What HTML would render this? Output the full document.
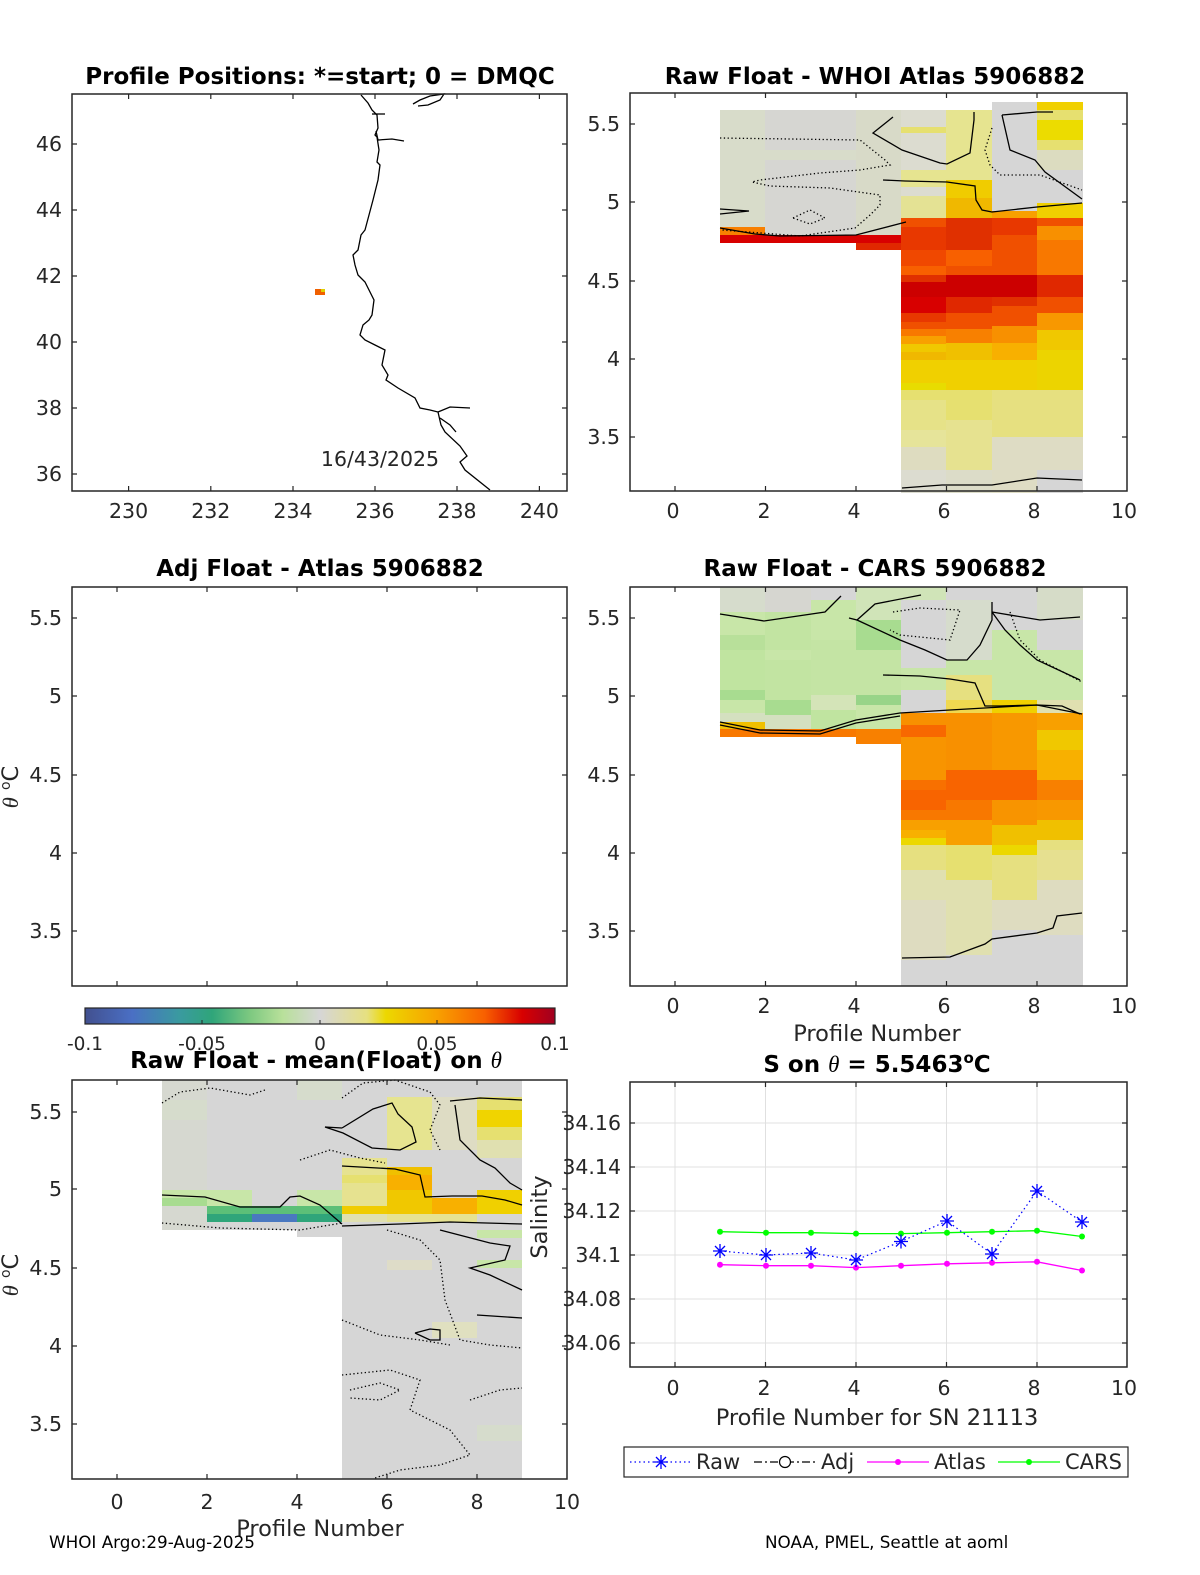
<!DOCTYPE html>
<html><head><meta charset="utf-8"><style>
html,body{margin:0;padding:0;background:#fff;}
svg{display:block;font-family:"DejaVu Sans","Liberation Sans",sans-serif;}
.t{font-size:20.5px;fill:#262626;}
.l{font-size:22.5px;fill:#262626;}
.h{font-size:23px;font-weight:bold;fill:#000;}
.ax{fill:none;stroke:#262626;stroke-width:1.5;}
.c{fill:none;stroke:#000;stroke-width:1.3;}
.d{fill:none;stroke:#000;stroke-width:1.3;stroke-dasharray:1.3 2.5;}
</style></head><body>
<svg width="1200" height="1575" viewBox="0 0 1200 1575" xmlns="http://www.w3.org/2000/svg" xml:space="preserve">
<rect width="1200" height="1575" fill="#fff"/>
<defs>
<linearGradient id="cm" x1="0" x2="1" y1="0" y2="0">
<stop offset="0" stop-color="#42508f"/><stop offset="0.1" stop-color="#4a6fc4"/>
<stop offset="0.2" stop-color="#3a9aa0"/><stop offset="0.27" stop-color="#2fa57a"/>
<stop offset="0.35" stop-color="#7cc880"/><stop offset="0.42" stop-color="#b8e09a"/>
<stop offset="0.5" stop-color="#d6d6d6"/><stop offset="0.6" stop-color="#e6e080"/>
<stop offset="0.64" stop-color="#ecd800"/><stop offset="0.75" stop-color="#f8a000"/>
<stop offset="0.85" stop-color="#f86000"/><stop offset="0.93" stop-color="#d80000"/>
<stop offset="1" stop-color="#a00020"/>
</linearGradient>
</defs>

<!-- ============ Panel 1: Map ============ -->
<text class="h" x="320" y="84" text-anchor="middle">Profile Positions: *=start; 0 = DMQC</text>
<polyline class="c" points="361,95 368,103 372,110 377,115 378,128 375,135 377,137 379,150 377,162 380,165 378,180 373,200 369,215 365,230 361,235 358,250 353,255 355,265 358,275 365,282 370,292 374,300 372,315 369,320 363,325 360,335 365,340 375,345 385,350 382,365 388,375 386,380 398,388 415,398 420,408 430,410 438,412 441,425 445,432 460,446 467,456 460,462 465,470 490,490"/>
<polyline class="c" points="372,114 385,114"/>
<polyline class="c" points="376,131 378,140 392,139 404,141"/>
<polyline class="c" points="413,104 420,100 430,96 444,94 440,100 428,105 418,106"/>
<polyline class="c" points="438,412 450,407 470,408"/>
<polyline class="c" points="440,418 450,425 456,432"/>
<rect x="315" y="289" width="10" height="6" fill="#f06000"/>
<rect x="321" y="289" width="4" height="3" fill="#e0d000"/>
<text class="t" x="380" y="466" text-anchor="middle">16/43/2025</text>
<rect class="ax" x="72" y="94" width="495" height="397"/>
<g stroke="#262626" stroke-width="1.2">
<path d="M128.6,491v-5M210.8,491v-5M293,491v-5M375,491v-5M457,491v-5M539.4,491v-5M128.6,94v5M210.8,94v5M293,94v5M375,94v5M457,94v5M539.4,94v5"/>
<path d="M72,144h5M72,210h5M72,276h5M72,342h5M72,408h5M72,474h5M567,144h-5M567,210h-5M567,276h-5M567,342h-5M567,408h-5M567,474h-5"/>
</g>
<g class="t" text-anchor="middle">
<text x="128.6" y="518">230</text><text x="210.8" y="518">232</text><text x="293" y="518">234</text><text x="375" y="518">236</text><text x="457" y="518">238</text><text x="539.4" y="518">240</text>
</g>
<g class="t" text-anchor="end">
<text x="62" y="151">46</text><text x="62" y="217">44</text><text x="62" y="283">42</text><text x="62" y="349">40</text><text x="62" y="415">38</text><text x="62" y="481">36</text>
</g>

<!-- ============ Panel 2: Raw - WHOI Atlas ============ -->
<text class="h" x="875" y="84" text-anchor="middle">Raw Float - WHOI Atlas  5906882</text>
<g>
<rect x="720" y="110" width="46" height="117" fill="#d8dcca"/>
<rect x="720" y="227" width="46" height="8" fill="#f88000"/>
<rect x="720" y="235" width="46" height="8" fill="#d80000"/>
<rect x="765" y="110" width="92" height="125" fill="#d6d6d2"/>
<rect x="765" y="150" width="92" height="10" fill="#d8dcca"/>
<rect x="765" y="235" width="92" height="8" fill="#d80000"/>
<rect x="856" y="110" width="46" height="125" fill="#d8dac8"/>
<rect x="856" y="235" width="46" height="8" fill="#d80000"/>
<rect x="856" y="243" width="46" height="7" fill="#e02800"/>
<rect x="901" y="110" width="46" height="383" fill="#dcdcd0"/>
<rect x="901" y="127" width="46" height="6" fill="#e6e070"/>
<rect x="901" y="170" width="46" height="17" fill="#e6e490"/>
<rect x="901" y="196" width="46" height="22" fill="#e4e294"/>
<rect x="901" y="218" width="46" height="9" fill="#f05000"/>
<rect x="901" y="227" width="46" height="23" fill="#e83800"/>
<rect x="901" y="250" width="46" height="16" fill="#f04800"/>
<rect x="901" y="266" width="46" height="9" fill="#f86000"/>
<rect x="901" y="275" width="46" height="7" fill="#e03000"/>
<rect x="901" y="282" width="46" height="15" fill="#cc0000"/>
<rect x="901" y="297" width="46" height="16" fill="#d80000"/>
<rect x="901" y="313" width="46" height="9" fill="#e83800"/>
<rect x="901" y="322" width="46" height="7" fill="#f05000"/>
<rect x="901" y="329" width="46" height="7" fill="#f87800"/>
<rect x="901" y="336" width="46" height="8" fill="#f8a000"/>
<rect x="901" y="344" width="46" height="8" fill="#f0c800"/>
<rect x="901" y="352" width="46" height="8" fill="#f0b800"/>
<rect x="901" y="360" width="46" height="23" fill="#f0d000"/>
<rect x="901" y="383" width="46" height="7" fill="#e8dc00"/>
<rect x="901" y="390" width="46" height="10" fill="#e6e070"/>
<rect x="901" y="400" width="46" height="30" fill="#e6e288"/>
<rect x="901" y="430" width="46" height="17" fill="#e6e49a"/>
<rect x="901" y="447" width="46" height="23" fill="#dedcc0"/>
<rect x="946" y="110" width="46" height="383" fill="#dcdcc8"/>
<rect x="946" y="110" width="46" height="70" fill="#e6e490"/>
<rect x="946" y="180" width="46" height="18" fill="#f0cc00"/>
<rect x="946" y="198" width="46" height="20" fill="#f0b800"/>
<rect x="946" y="218" width="46" height="32" fill="#e03000"/>
<rect x="946" y="250" width="46" height="16" fill="#f86000"/>
<rect x="946" y="266" width="46" height="9" fill="#f05000"/>
<rect x="946" y="275" width="46" height="22" fill="#cc0000"/>
<rect x="946" y="297" width="46" height="16" fill="#e02800"/>
<rect x="946" y="313" width="46" height="16" fill="#f05000"/>
<rect x="946" y="329" width="46" height="14" fill="#f88000"/>
<rect x="946" y="343" width="46" height="17" fill="#f0c000"/>
<rect x="946" y="360" width="46" height="30" fill="#f0d000"/>
<rect x="946" y="390" width="46" height="30" fill="#e6e070"/>
<rect x="946" y="420" width="46" height="50" fill="#e6e290"/>
<rect x="992" y="102" width="46" height="391" fill="#d6d6d6"/>
<rect x="992" y="211" width="46" height="7" fill="#f8a000"/>
<rect x="992" y="218" width="46" height="17" fill="#e83800"/>
<rect x="992" y="235" width="46" height="40" fill="#f05000"/>
<rect x="992" y="275" width="46" height="22" fill="#cc0000"/>
<rect x="992" y="297" width="46" height="9" fill="#e03000"/>
<rect x="992" y="306" width="46" height="20" fill="#f05000"/>
<rect x="992" y="326" width="46" height="17" fill="#f89000"/>
<rect x="992" y="343" width="46" height="17" fill="#f8b000"/>
<rect x="992" y="360" width="46" height="30" fill="#f0d000"/>
<rect x="992" y="390" width="46" height="47" fill="#e6e080"/>
<rect x="992" y="437" width="46" height="56" fill="#dedcc4"/>
<rect x="1037" y="102" width="46" height="391" fill="#d6d6d6"/>
<rect x="1037" y="102" width="46" height="8" fill="#f0d000"/>
<rect x="1037" y="110" width="46" height="10" fill="#e6e070"/>
<rect x="1037" y="120" width="46" height="20" fill="#ecdc00"/>
<rect x="1037" y="140" width="46" height="10" fill="#e6e070"/>
<rect x="1037" y="150" width="46" height="20" fill="#dcdcc0"/>
<rect x="1037" y="203" width="46" height="15" fill="#f0d000"/>
<rect x="1037" y="218" width="46" height="8" fill="#f05000"/>
<rect x="1037" y="226" width="46" height="14" fill="#f89000"/>
<rect x="1037" y="240" width="46" height="35" fill="#f87800"/>
<rect x="1037" y="275" width="46" height="22" fill="#e02800"/>
<rect x="1037" y="297" width="46" height="16" fill="#f05000"/>
<rect x="1037" y="313" width="46" height="17" fill="#f89800"/>
<rect x="1037" y="330" width="46" height="20" fill="#f0c800"/>
<rect x="1037" y="350" width="46" height="40" fill="#ecd400"/>
<rect x="1037" y="390" width="46" height="47" fill="#e6e080"/>
<rect x="1037" y="437" width="46" height="33" fill="#dedcc4"/>
</g>
<polyline class="c" points="893,117 873,133 902,150 940,163 947,164 970,153 974,120 974,112"/>
<polyline class="c" points="883,180 905,181 947,182 975,186 976,200 982,210 992,212 1037,207 1082,203"/>
<polyline class="c" points="720,228 755,234 780,236 856,235 906,222"/>
<polyline class="c" points="1002,115 1037,112 1053,112"/>
<polyline class="c" points="1002,115 1010,150 1035,160 1045,172 1082,199"/>
<polyline class="c" points="720,209 749,211 720,214"/>
<polyline class="c" points="902,488 942,485 992,485 1037,478 1082,480"/>
<polyline class="d" points="720,138 860,140 885,160 890,165 860,170 820,173 760,180 752,182 770,186 830,188 880,195 880,205 870,215 855,228 800,236 722,230"/>
<polyline class="d" points="992,128 985,150 990,165 1000,175 1040,175 1082,190"/>
<polyline class="d" points="793,218 810,210 825,218 810,224 793,218"/>
<rect class="ax" x="630" y="93" width="497" height="398"/>
<g stroke="#262626" stroke-width="1.2">
<path d="M675,491v-5M765.5,491v-5M856,491v-5M946.5,491v-5M1037,491v-5M675,93v5M765.5,93v5M856,93v5M946.5,93v5M1037,93v5"/>
<path d="M630,124h5M630,202h5M630,281h5M630,359h5M630,437h5M1127,124h-5M1127,202h-5M1127,281h-5M1127,359h-5M1127,437h-5"/>
</g>
<g class="t" text-anchor="middle">
<text x="673" y="518">0</text><text x="764" y="518">2</text><text x="854" y="518">4</text><text x="944" y="518">6</text><text x="1034" y="518">8</text><text x="1124" y="518">10</text>
</g>
<g class="t" text-anchor="end">
<text x="620" y="131">5.5</text><text x="620" y="209">5</text><text x="620" y="288">4.5</text><text x="620" y="366">4</text><text x="620" y="444">3.5</text>
</g>

<!-- ============ Panel 3 ============ -->
<text class="h" x="320" y="576" text-anchor="middle">Adj Float - Atlas  5906882</text>
<rect class="ax" x="72" y="587" width="495" height="399"/>
<g stroke="#262626" stroke-width="1.2">
<path d="M117,986v-5M207,986v-5M297,986v-5M387,986v-5M477,986v-5M117,587v5M207,587v5M297,587v5M387,587v5M477,587v5"/>
<path d="M72,618h5M72,696h5M72,775h5M72,853h5M72,931h5M567,618h-5M567,696h-5M567,775h-5M567,853h-5M567,931h-5"/>
</g>
<g class="t" text-anchor="end">
<text x="62" y="625">5.5</text><text x="62" y="703">5</text><text x="62" y="782">4.5</text><text x="62" y="860">4</text><text x="62" y="938">3.5</text>
</g>
<text class="l" transform="translate(18,787) rotate(-90)" text-anchor="middle"><tspan font-style="italic" font-family="Liberation Serif, serif">θ</tspan> <tspan font-size="14" dy="-8">o</tspan><tspan dy="8">C</tspan></text>

<!-- ============ Panel 4 ============ -->
<text class="h" x="875" y="576" text-anchor="middle">Raw Float - CARS  5906882</text>
<g>
<rect x="720" y="587" width="46" height="25" fill="#d6dccc"/>
<rect x="720" y="612" width="46" height="23" fill="#c8e6a8"/>
<rect x="720" y="635" width="46" height="15" fill="#b8e09a"/>
<rect x="720" y="650" width="46" height="40" fill="#c0e4a0"/>
<rect x="720" y="690" width="46" height="10" fill="#a8dc90"/>
<rect x="720" y="700" width="46" height="13" fill="#c8e6a8"/>
<rect x="720" y="713" width="46" height="9" fill="#d4e0c0"/>
<rect x="720" y="722" width="46" height="7" fill="#f0c000"/>
<rect x="720" y="729" width="46" height="8" fill="#f87800"/>
<rect x="765" y="587" width="46" height="25" fill="#d6d6d0"/>
<rect x="765" y="612" width="46" height="88" fill="#c2e4a2"/>
<rect x="765" y="650" width="46" height="10" fill="#c8e6a8"/>
<rect x="765" y="700" width="46" height="15" fill="#a8dc90"/>
<rect x="765" y="715" width="46" height="14" fill="#d4e0c0"/>
<rect x="765" y="729" width="46" height="8" fill="#f87800"/>
<rect x="811" y="587" width="46" height="13" fill="#d6d6d6"/>
<rect x="811" y="600" width="46" height="40" fill="#c8e6a8"/>
<rect x="811" y="640" width="46" height="55" fill="#c4e4a4"/>
<rect x="811" y="695" width="46" height="15" fill="#d4e4b8"/>
<rect x="811" y="710" width="46" height="19" fill="#c0e4a0"/>
<rect x="811" y="729" width="46" height="8" fill="#f87800"/>
<rect x="856" y="587" width="46" height="33" fill="#d0e4b8"/>
<rect x="856" y="620" width="46" height="30" fill="#a8dc90"/>
<rect x="856" y="650" width="46" height="45" fill="#c4e4a4"/>
<rect x="856" y="695" width="46" height="10" fill="#98d488"/>
<rect x="856" y="705" width="46" height="24" fill="#c8e6a8"/>
<rect x="856" y="729" width="46" height="15" fill="#f88000"/>
<rect x="901" y="587" width="46" height="399" fill="#d6d6d6"/>
<rect x="901" y="587" width="46" height="13" fill="#d0e4b8"/>
<rect x="901" y="668" width="46" height="22" fill="#c8e6a8"/>
<rect x="901" y="713" width="46" height="12" fill="#f89000"/>
<rect x="901" y="725" width="46" height="12" fill="#f86800"/>
<rect x="901" y="737" width="46" height="43" fill="#f89400"/>
<rect x="901" y="780" width="46" height="10" fill="#f87000"/>
<rect x="901" y="790" width="46" height="20" fill="#f86400"/>
<rect x="901" y="810" width="46" height="10" fill="#f87800"/>
<rect x="901" y="820" width="46" height="10" fill="#f8a000"/>
<rect x="901" y="830" width="46" height="8" fill="#f8b000"/>
<rect x="901" y="838" width="46" height="7" fill="#ecd800"/>
<rect x="901" y="845" width="46" height="25" fill="#e6e080"/>
<rect x="901" y="870" width="46" height="30" fill="#e0e0b0"/>
<rect x="901" y="900" width="46" height="60" fill="#dedcc0"/>
<rect x="946" y="587" width="46" height="399" fill="#d6d6d6"/>
<rect x="946" y="600" width="46" height="60" fill="#d6dccc"/>
<rect x="946" y="660" width="46" height="15" fill="#c8e6a8"/>
<rect x="946" y="675" width="46" height="25" fill="#e6e080"/>
<rect x="946" y="700" width="46" height="13" fill="#f0d850"/>
<rect x="946" y="713" width="46" height="57" fill="#f89000"/>
<rect x="946" y="770" width="46" height="30" fill="#f86400"/>
<rect x="946" y="800" width="46" height="20" fill="#f87800"/>
<rect x="946" y="820" width="46" height="25" fill="#f8a000"/>
<rect x="946" y="845" width="46" height="35" fill="#e6e070"/>
<rect x="946" y="880" width="46" height="75" fill="#e0e0b0"/>
<rect x="992" y="587" width="46" height="399" fill="#d6d6d6"/>
<rect x="992" y="630" width="46" height="70" fill="#c8e6a8"/>
<rect x="992" y="700" width="46" height="13" fill="#f0d000"/>
<rect x="992" y="713" width="46" height="57" fill="#f89800"/>
<rect x="992" y="770" width="46" height="30" fill="#f86400"/>
<rect x="992" y="800" width="46" height="25" fill="#f89400"/>
<rect x="992" y="825" width="46" height="20" fill="#f0c000"/>
<rect x="992" y="845" width="46" height="10" fill="#ecd800"/>
<rect x="992" y="855" width="46" height="45" fill="#e6e080"/>
<rect x="992" y="900" width="46" height="30" fill="#dedcc0"/>
<rect x="1037" y="587" width="46" height="399" fill="#d6d6d6"/>
<rect x="1037" y="587" width="46" height="33" fill="#d6dcc8"/>
<rect x="1037" y="650" width="46" height="50" fill="#c8e6a8"/>
<rect x="1037" y="700" width="46" height="13" fill="#e0e0b0"/>
<rect x="1037" y="713" width="46" height="17" fill="#f8a000"/>
<rect x="1037" y="730" width="46" height="20" fill="#f0c800"/>
<rect x="1037" y="750" width="46" height="30" fill="#f8b000"/>
<rect x="1037" y="780" width="46" height="20" fill="#f88000"/>
<rect x="1037" y="800" width="46" height="20" fill="#f89800"/>
<rect x="1037" y="820" width="46" height="20" fill="#f0c000"/>
<rect x="1037" y="840" width="46" height="10" fill="#e6e080"/>
<rect x="1037" y="850" width="46" height="30" fill="#e6e090"/>
<rect x="1037" y="880" width="46" height="55" fill="#dedcc0"/>
</g>
<polyline class="c" points="720,614 764,621 825,612 841,596"/>
<polyline class="c" points="849,618 857,620 875,604 921,595"/>
<polyline class="c" points="857,620 900,640 925,650 947,660 967,660 980,645 992,620 992,602"/>
<polyline class="c" points="992,612 1040,620 1080,617"/>
<polyline class="c" points="992,612 1005,630 1020,645 1037,660 1080,680"/>
<polyline class="c" points="883,675 920,676 950,679 975,683 985,706 1000,706 1037,705 1062,706 1080,714"/>
<polyline class="c" points="720,722 760,730 820,731 856,720 900,713 950,710 1037,705 1082,714" stroke-width="2.5"/>
<polyline class="c" points="720,725 760,733 820,734 856,723 900,716"/>
<polyline class="c" points="902,958 950,957 985,944 992,939 1037,933 1053,928 1057,916 1082,913"/>
<polyline class="d" points="893,612 920,608 960,610 950,640 900,635 890,630"/>
<polyline class="d" points="1010,612 1020,640 1040,660 1082,682"/>
<rect class="ax" x="630" y="587" width="497" height="399"/>
<g stroke="#262626" stroke-width="1.2">
<path d="M675,986v-5M765.5,986v-5M856,986v-5M946.5,986v-5M1037,986v-5M675,587v5M765.5,587v5M856,587v5M946.5,587v5M1037,587v5"/>
<path d="M630,618h5M630,696h5M630,775h5M630,853h5M630,931h5M1127,618h-5M1127,696h-5M1127,775h-5M1127,853h-5M1127,931h-5"/>
</g>
<g class="t" text-anchor="middle">
<text x="673" y="1013">0</text><text x="764" y="1013">2</text><text x="854" y="1013">4</text><text x="944" y="1013">6</text><text x="1034" y="1013">8</text><text x="1124" y="1013">10</text>
</g>
<text class="l" x="877" y="1041" text-anchor="middle">Profile Number</text>
<g class="t" text-anchor="end">
<text x="620" y="625">5.5</text><text x="620" y="703">5</text><text x="620" y="782">4.5</text><text x="620" y="860">4</text><text x="620" y="938">3.5</text>
</g>

<!-- ============ Colorbar ============ -->
<rect x="85" y="1008" width="470" height="16" fill="url(#cm)" stroke="#262626" stroke-width="1.2"/>
<g stroke="#262626" stroke-width="1"><path d="M202,1024v-4M320,1024v-4M437,1024v-4"/></g>
<g text-anchor="middle" fill="#262626" style="font-size:18.5px">
<text x="85" y="1050">-0.1</text><text x="202" y="1050">-0.05</text><text x="320" y="1050">0</text><text x="437" y="1050">0.05</text><text x="555" y="1050">0.1</text>
</g>

<!-- ============ Panel 5 ============ -->
<text class="h" x="316" y="1068" text-anchor="middle">Raw Float - mean(Float) on <tspan font-style="italic" font-family="Liberation Serif, serif" font-weight="normal">θ</tspan></text>
<g>
<rect x="162" y="1080" width="45" height="150" fill="#d6d8d0"/>
<rect x="162" y="1100" width="45" height="20" fill="#d6dccc"/>
<rect x="162" y="1190" width="45" height="8" fill="#c8e6a8"/>
<rect x="162" y="1198" width="45" height="8" fill="#a8dc90"/>
<rect x="207" y="1080" width="45" height="150" fill="#d6d6d6"/>
<rect x="207" y="1190" width="45" height="16" fill="#c8e6a8"/>
<rect x="207" y="1206" width="45" height="8" fill="#5cbf78"/>
<rect x="207" y="1214" width="45" height="8" fill="#2fa57a"/>
<rect x="252" y="1080" width="45" height="150" fill="#d6d6d6"/>
<rect x="252" y="1206" width="45" height="8" fill="#5cbf78"/>
<rect x="252" y="1214" width="45" height="8" fill="#4a78c0"/>
<rect x="297" y="1080" width="45" height="157" fill="#d6d6d6"/>
<rect x="297" y="1080" width="45" height="20" fill="#d6dccc"/>
<rect x="297" y="1190" width="45" height="16" fill="#c8e6a8"/>
<rect x="297" y="1206" width="45" height="8" fill="#5cbf78"/>
<rect x="297" y="1214" width="45" height="8" fill="#2fa57a"/>
<rect x="342" y="1080" width="45" height="399" fill="#d6d6d6"/>
<rect x="342" y="1158" width="45" height="17" fill="#e6e290"/>
<rect x="342" y="1175" width="45" height="8" fill="#e6e070"/>
<rect x="342" y="1183" width="45" height="23" fill="#e6e290"/>
<rect x="342" y="1206" width="45" height="8" fill="#f0cc00"/>
<rect x="342" y="1214" width="45" height="8" fill="#e0e0b0"/>
<rect x="387" y="1080" width="45" height="399" fill="#d6d6d6"/>
<rect x="387" y="1097" width="45" height="53" fill="#e6e490"/>
<rect x="387" y="1167" width="45" height="8" fill="#f0c000"/>
<rect x="387" y="1175" width="45" height="15" fill="#f8b000"/>
<rect x="387" y="1190" width="45" height="24" fill="#f0c800"/>
<rect x="387" y="1214" width="45" height="8" fill="#e6e290"/>
<rect x="387" y="1260" width="45" height="10" fill="#dedcc8"/>
<rect x="432" y="1080" width="45" height="399" fill="#d6d6d6"/>
<rect x="432" y="1097" width="45" height="53" fill="#dedcc4"/>
<rect x="432" y="1198" width="45" height="16" fill="#f8b000"/>
<rect x="432" y="1214" width="45" height="8" fill="#e6e290"/>
<rect x="432" y="1322" width="45" height="16" fill="#e0e0c0"/>
<rect x="477" y="1080" width="45" height="399" fill="#d6d6d6"/>
<rect x="477" y="1097" width="45" height="13" fill="#e6e070"/>
<rect x="477" y="1110" width="45" height="17" fill="#f0d400"/>
<rect x="477" y="1127" width="45" height="13" fill="#e6e070"/>
<rect x="477" y="1140" width="45" height="18" fill="#e0e0b0"/>
<rect x="477" y="1190" width="45" height="24" fill="#f0d000"/>
<rect x="477" y="1230" width="45" height="8" fill="#c8e6a8"/>
<rect x="477" y="1260" width="45" height="8" fill="#c8e6a8"/>
<rect x="477" y="1425" width="45" height="16" fill="#d6dccc"/>
</g>
<polyline class="c" points="342,1128 373,1109 392,1103 398,1114 412,1127 416,1142 400,1150 372,1148 343,1133 325,1127 342,1128"/>
<polyline class="c" points="162,1195 205,1197 240,1207 280,1207 290,1197 300,1196 320,1205 335,1218 342,1224"/>
<polyline class="c" points="342,1166 395,1169 420,1175 425,1197 452,1196 482,1196 505,1200 522,1205"/>
<polyline class="c" points="450,1101 480,1098 522,1100"/>
<polyline class="c" points="455,1105 460,1140 480,1160 495,1168 510,1183 522,1190"/>
<polyline class="c" points="342,1226 400,1224 450,1222 522,1224"/>
<polyline class="c" points="440,1230 490,1243 510,1246 505,1260 470,1268 490,1275 522,1290"/>
<polyline class="c" points="477,1315 522,1318"/>
<polyline class="c" points="415,1333 430,1329 440,1330 440,1340 430,1340 415,1333"/>
<polyline class="d" points="162,1223 220,1228 300,1230 342,1223"/>
<polyline class="d" points="162,1103 180,1092 210,1088 250,1095 265,1090"/>
<polyline class="d" points="342,1098 363,1083 395,1080 430,1092 440,1105 430,1130 440,1150"/>
<polyline class="d" points="300,1160 330,1150 360,1158 385,1163"/>
<polyline class="d" points="387,1230 420,1240 440,1260 445,1300 460,1340 490,1345 522,1348"/>
<polyline class="d" points="342,1320 380,1335 420,1340 450,1345"/>
<polyline class="d" points="350,1390 380,1383 400,1390 380,1400 350,1398"/>
<polyline class="d" points="342,1375 390,1370 420,1380 410,1410 450,1430 470,1455 440,1465 400,1470 375,1478"/>
<polyline class="d" points="470,1400 500,1390 522,1388"/>
<rect class="ax" x="72" y="1080" width="495" height="399"/>
<g stroke="#262626" stroke-width="1.2">
<path d="M117,1479v-5M207,1479v-5M297,1479v-5M387,1479v-5M477,1479v-5M117,1080v5M207,1080v5M297,1080v5M387,1080v5M477,1080v5"/>
<path d="M72,1112h5M72,1189h5M72,1268h5M72,1346h5M72,1424h5M567,1112h-5M567,1189h-5M567,1268h-5M567,1346h-5M567,1424h-5"/>
</g>
<g class="t" text-anchor="middle">
<text x="117" y="1509">0</text><text x="207" y="1509">2</text><text x="297" y="1509">4</text><text x="387" y="1509">6</text><text x="477" y="1509">8</text><text x="567" y="1509">10</text>
</g>
<text class="l" x="320" y="1536" text-anchor="middle">Profile Number</text>
<g class="t" text-anchor="end">
<text x="62" y="1119">5.5</text><text x="62" y="1196">5</text><text x="62" y="1275">4.5</text><text x="62" y="1353">4</text><text x="62" y="1431">3.5</text>
</g>
<text class="l" transform="translate(18,1275) rotate(-90)" text-anchor="middle"><tspan font-style="italic" font-family="Liberation Serif, serif">θ</tspan> <tspan font-size="14" dy="-8">o</tspan><tspan dy="8">C</tspan></text>

<!-- ============ Panel 6 ============ -->
<text class="h" x="877" y="1072" text-anchor="middle">S on <tspan font-style="italic" font-family="Liberation Serif, serif" font-weight="normal">θ</tspan> = 5.5463<tspan font-size="15" dy="-9">o</tspan><tspan dy="9">C</tspan></text>
<g stroke="#e0e0e0" stroke-width="1">
<path d="M675,1082v285M765.5,1082v285M856,1082v285M946.5,1082v285M1037,1082v285"/>
<path d="M630,1123h497M630,1167h497M630,1211h497M630,1255h497M630,1299h497M630,1343h497"/>
</g>
<polyline fill="none" stroke="#00ff00" stroke-width="1.3" points="720,1231.7 766,1232.7 811,1232.7 856,1233.6 901,1233.6 947,1232.7 992,1231.7 1037,1230.7 1082,1236.5"/>
<g fill="#00ff00"><circle cx="720" cy="1231.7" r="3"/><circle cx="766" cy="1232.7" r="3"/><circle cx="811" cy="1232.7" r="3"/><circle cx="856" cy="1233.6" r="3"/><circle cx="901" cy="1233.6" r="3"/><circle cx="947" cy="1232.7" r="3"/><circle cx="992" cy="1231.7" r="3"/><circle cx="1037" cy="1230.7" r="3"/><circle cx="1082" cy="1236.5" r="3"/></g>
<polyline fill="none" stroke="#ff00ff" stroke-width="1.3" points="720,1264.7 766,1265.7 811,1265.7 856,1267.6 901,1265.7 947,1263.8 992,1262.8 1037,1261.8 1082,1270.5"/>
<g fill="#ff00ff"><circle cx="720" cy="1264.7" r="3"/><circle cx="766" cy="1265.7" r="3"/><circle cx="811" cy="1265.7" r="3"/><circle cx="856" cy="1267.6" r="3"/><circle cx="901" cy="1265.7" r="3"/><circle cx="947" cy="1263.8" r="3"/><circle cx="992" cy="1262.8" r="3"/><circle cx="1037" cy="1261.8" r="3"/><circle cx="1082" cy="1270.5" r="3"/></g>
<polyline fill="none" stroke="#0000ff" stroke-width="1.2" stroke-dasharray="1.5 3" points="720,1251 766,1255 811,1253 856,1260 901,1241.5 947,1221 992,1254 1037,1191 1082,1222"/>
<g stroke="#0000ff" stroke-width="1.3" fill="none">
<path d="M713,1251h14M720,1244v14M715,1246l10,10M725,1246l-10,10"/>
<path d="M759,1255h14M766,1248v14M761,1250l10,10M771,1250l-10,10"/>
<path d="M804,1253h14M811,1246v14M806,1248l10,10M816,1248l-10,10"/>
<path d="M849,1260h14M856,1253v14M851,1255l10,10M861,1255l-10,10"/>
<path d="M894,1241.5h14M901,1234.5v14M896,1236.5l10,10M906,1236.5l-10,10"/>
<path d="M940,1221h14M947,1214v14M942,1216l10,10M952,1216l-10,10"/>
<path d="M985,1254h14M992,1247v14M987,1249l10,10M997,1249l-10,10"/>
<path d="M1030,1191h14M1037,1184v14M1032,1186l10,10M1042,1186l-10,10"/>
<path d="M1075,1222h14M1082,1215v14M1077,1217l10,10M1087,1217l-10,10"/>
</g>
<rect class="ax" x="630" y="1082" width="497" height="285"/>
<g stroke="#262626" stroke-width="1.2">
<path d="M675,1367v-5M765.5,1367v-5M856,1367v-5M946.5,1367v-5M1037,1367v-5M675,1082v5M765.5,1082v5M856,1082v5M946.5,1082v5M1037,1082v5"/>
<path d="M630,1123h5M630,1167h5M630,1211h5M630,1255h5M630,1299h5M630,1343h5M1127,1123h-5M1127,1167h-5M1127,1211h-5M1127,1255h-5M1127,1299h-5M1127,1343h-5"/>
</g>
<g class="t" text-anchor="middle">
<text x="673" y="1395">0</text><text x="764" y="1395">2</text><text x="854" y="1395">4</text><text x="944" y="1395">6</text><text x="1034" y="1395">8</text><text x="1124" y="1395">10</text>
</g>
<text class="l" x="877" y="1425" text-anchor="middle">Profile Number for SN 21113</text>
<g class="t" text-anchor="end">
<text x="621" y="1130">34.16</text><text x="621" y="1174">34.14</text><text x="621" y="1218">34.12</text><text x="621" y="1262">34.1</text><text x="621" y="1306">34.08</text><text x="621" y="1350">34.06</text>
</g>
<text class="l" transform="translate(547,1217) rotate(-90)" text-anchor="middle">Salinity</text>

<!-- Legend -->
<rect x="624" y="1447" width="504" height="30" fill="#fff" stroke="#262626" stroke-width="1.2"/>
<line x1="630" y1="1462" x2="690" y2="1462" stroke="#0000ff" stroke-width="1.2" stroke-dasharray="1.5 3"/>
<path d="M654,1462h14M661,1455v14M656,1457l10,10M666,1457l-10,10" stroke="#0000ff" stroke-width="1.3" fill="none"/>
<text class="t" x="696" y="1469" style="font-size:21px">Raw</text>
<line x1="754" y1="1462" x2="815" y2="1462" stroke="#000" stroke-width="1.2" stroke-dasharray="8 3 2 3"/>
<circle cx="785" cy="1462" r="5.5" fill="#fff" stroke="#000" stroke-width="1.2"/>
<text class="t" x="821" y="1469" style="font-size:21px">Adj</text>
<line x1="867" y1="1462" x2="929" y2="1462" stroke="#ff00ff" stroke-width="1.3"/>
<circle cx="898" cy="1462" r="3" fill="#ff00ff"/>
<text class="t" x="934" y="1469" style="font-size:21px">Atlas</text>
<line x1="998" y1="1462" x2="1060" y2="1462" stroke="#00ff00" stroke-width="1.3"/>
<circle cx="1029" cy="1462" r="3" fill="#00ff00"/>
<text class="t" x="1065" y="1469" style="font-size:21px">CARS</text>

<!-- Footer -->
<text x="49" y="1548" style="font-size:16.8px" fill="#000">WHOI Argo:29-Aug-2025</text>
<text x="765" y="1548" style="font-size:16.8px" fill="#000">NOAA, PMEL, Seattle at aoml</text>
</svg>
</body></html>
